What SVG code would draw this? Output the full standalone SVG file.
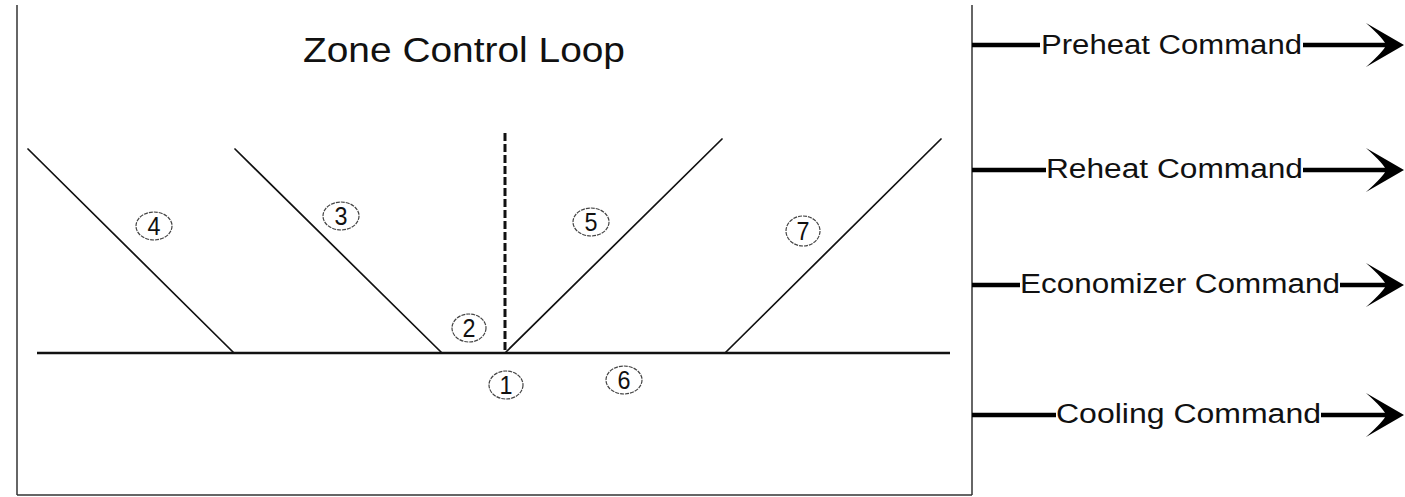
<svg xmlns="http://www.w3.org/2000/svg" width="1405" height="497" viewBox="0 0 1405 497">
<style>
.frame{stroke:#333;stroke-width:1.5;fill:none}
.ln{stroke:#111;stroke-width:1.7;fill:none;stroke-linecap:round}
.base{stroke:#111;stroke-width:2.6;fill:none}
.dash{stroke:#111;stroke-width:3;stroke-dasharray:8 3;fill:none}
.bub{fill:#fff;stroke:#444;stroke-width:1.2;stroke-dasharray:4 1}
.num{font-family:"Liberation Sans",Arial,sans-serif;font-size:26px;fill:#111;text-anchor:middle}
.title{font-family:"Liberation Sans",Arial,sans-serif;font-size:35px;fill:#111}
.cmd{font-family:"Liberation Sans",Arial,sans-serif;font-size:27px;fill:#111}
.wire{stroke:#000;stroke-width:4.5;fill:none}
.head{fill:#000}
</style>
<defs>
<path id="ah" d="M0,0 L-38,-22 Q-20,-6 -18,0 Q-20,6 -38,22 Z"/>
</defs>
<g id="frame">
<line class="frame" x1="17" y1="5" x2="17" y2="495"/>
<line class="frame" x1="17" y1="495" x2="972" y2="495"/>
<line class="frame" x1="972" y1="5" x2="972" y2="495"/>
</g>
<g id="title">
<text class="title" x="303" y="62" textLength="322" lengthAdjust="spacingAndGlyphs">Zone Control Loop</text>
</g>
<g id="connectors">
<line class="base" x1="37" y1="353" x2="950" y2="353"/>
<line class="ln" x1="28" y1="149" x2="234" y2="353"/>
<line class="ln" x1="235" y1="149" x2="442" y2="353"/>
<line class="dash" x1="505" y1="133" x2="505" y2="353"/>
<line class="ln" x1="505" y1="353" x2="722" y2="139"/>
<line class="ln" x1="725" y1="353" x2="941" y2="139"/>
</g>
<g id="n1"><ellipse class="bub" cx="506" cy="385" rx="17" ry="14"/><text class="num" x="506" y="394" textLength="13" lengthAdjust="spacingAndGlyphs">1</text></g>
<g id="n2"><ellipse class="bub" cx="469" cy="328" rx="17" ry="14"/><text class="num" x="469" y="337" textLength="13" lengthAdjust="spacingAndGlyphs">2</text></g>
<g id="n3"><ellipse class="bub" cx="341" cy="216" rx="18" ry="14"/><text class="num" x="341" y="225" textLength="13" lengthAdjust="spacingAndGlyphs">3</text></g>
<g id="n4"><ellipse class="bub" cx="154" cy="226" rx="18" ry="14"/><text class="num" x="154" y="235" textLength="13" lengthAdjust="spacingAndGlyphs">4</text></g>
<g id="n5"><ellipse class="bub" cx="591" cy="222" rx="18" ry="14"/><text class="num" x="591" y="231" textLength="13" lengthAdjust="spacingAndGlyphs">5</text></g>
<g id="n6"><ellipse class="bub" cx="624" cy="380" rx="18" ry="14"/><text class="num" x="624" y="389" textLength="13" lengthAdjust="spacingAndGlyphs">6</text></g>
<g id="n7"><ellipse class="bub" cx="803" cy="231" rx="17" ry="15"/><text class="num" x="803" y="240" textLength="13" lengthAdjust="spacingAndGlyphs">7</text></g>
<g id="preheat">
<line class="wire" x1="972" y1="45" x2="1040" y2="45"/>
<text class="cmd" x="1041" y="54" textLength="261" lengthAdjust="spacingAndGlyphs">Preheat Command</text>
<line class="wire" x1="1303" y1="45" x2="1390" y2="45"/>
<use href="#ah" class="head" transform="translate(1404,45)"/>
</g>
<g id="reheat">
<line class="wire" x1="972" y1="170" x2="1046" y2="170"/>
<text class="cmd" x="1046" y="178" textLength="257" lengthAdjust="spacingAndGlyphs">Reheat Command</text>
<line class="wire" x1="1303" y1="170" x2="1390" y2="170"/>
<use href="#ah" class="head" transform="translate(1404,170)"/>
</g>
<g id="economizer">
<line class="wire" x1="972" y1="285" x2="1020" y2="285"/>
<text class="cmd" x="1020" y="293" textLength="320" lengthAdjust="spacingAndGlyphs">Economizer Command</text>
<line class="wire" x1="1340" y1="285" x2="1390" y2="285"/>
<use href="#ah" class="head" transform="translate(1404,285)"/>
</g>
<g id="cooling">
<line class="wire" x1="972" y1="415" x2="1056" y2="415"/>
<text class="cmd" x="1056" y="423" textLength="265" lengthAdjust="spacingAndGlyphs">Cooling Command</text>
<line class="wire" x1="1321" y1="415" x2="1390" y2="415"/>
<use href="#ah" class="head" transform="translate(1404,415)"/>
</g>
</svg>
